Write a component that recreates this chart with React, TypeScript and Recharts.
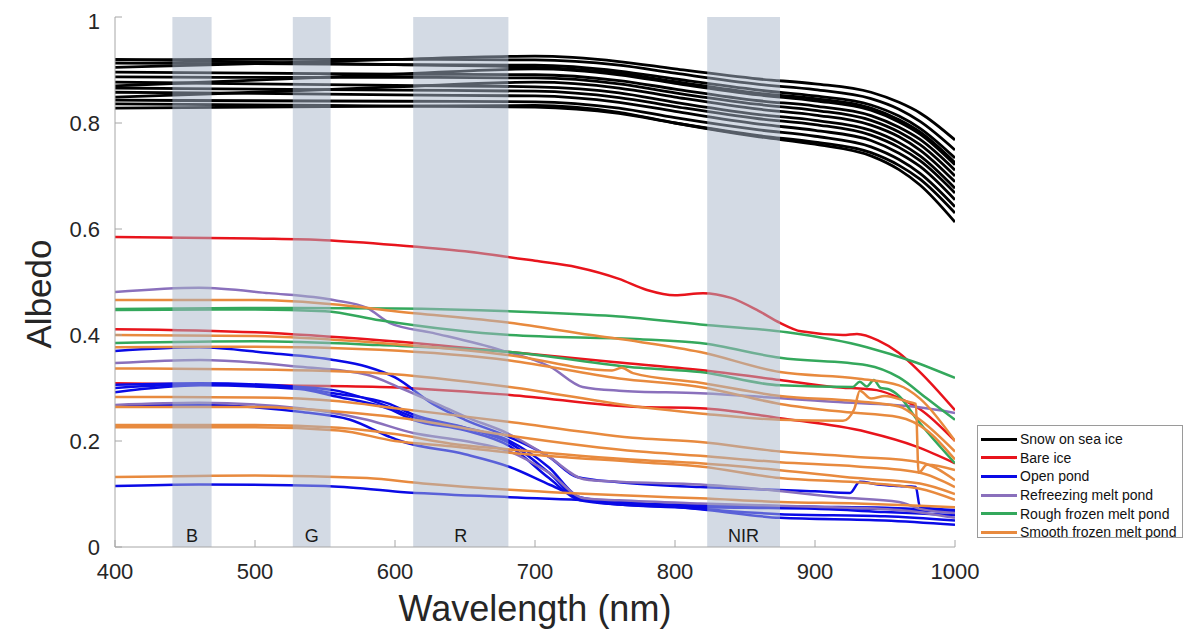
import React from 'react';
import { LineChart, Line, XAxis, YAxis, ReferenceArea, Legend, Label } from 'recharts';

const FONT = '"Liberation Sans", Arial, Helvetica, sans-serif';

const WL_TICKS = [400, 500, 600, 700, 800, 900, 1000];
const ALBEDO_TICKS = [0, 0.2, 0.4, 0.6, 0.8, 1];

const BAND_NAMES = ['B', 'G', 'R', 'NIR'];
const BAND_START = [441, 527, 613, 823];
const BAND_END = [469, 554, 681, 875];

const CATEGORIES = ['Snow on sea ice', 'Bare ice', 'Open pond', 'Refreezing melt pond', 'Rough frozen melt pond', 'Smooth frozen melt pond'];
const CATEGORY_COLORS = ['#000000', '#e8141c', '#0a0ae6', '#8a70bc', '#34a85c', '#e88a3e'];

// Snow on sea ice
const SNOW_WL = [400, 500, 600, 700, 760, 800, 860, 900, 940, 960, 975, 1000];
const SNOW_1 = [0.905, 0.912, 0.920, 0.926, 0.916, 0.902, 0.883, 0.874, 0.858, 0.839, 0.819, 0.768];
const SNOW_2 = [0.919, 0.920, 0.920, 0.919, 0.909, 0.894, 0.873, 0.863, 0.846, 0.826, 0.803, 0.749];
const SNOW_3 = [0.913, 0.912, 0.910, 0.909, 0.898, 0.883, 0.862, 0.851, 0.834, 0.813, 0.790, 0.734];
const SNOW_4 = [0.870, 0.881, 0.892, 0.902, 0.891, 0.875, 0.853, 0.842, 0.824, 0.802, 0.779, 0.721];
const SNOW_5 = [0.896, 0.894, 0.892, 0.891, 0.880, 0.864, 0.842, 0.832, 0.814, 0.792, 0.769, 0.711];
const SNOW_6 = [0.887, 0.886, 0.886, 0.885, 0.874, 0.857, 0.835, 0.824, 0.805, 0.783, 0.759, 0.700];
const SNOW_7 = [0.849, 0.858, 0.868, 0.877, 0.866, 0.849, 0.826, 0.815, 0.796, 0.774, 0.749, 0.689];
const SNOW_8 = [0.877, 0.874, 0.871, 0.868, 0.857, 0.839, 0.816, 0.805, 0.786, 0.763, 0.738, 0.677];
const SNOW_9 = [0.866, 0.864, 0.862, 0.860, 0.848, 0.831, 0.808, 0.797, 0.777, 0.754, 0.729, 0.668];
const SNOW_10 = [0.858, 0.856, 0.853, 0.851, 0.839, 0.822, 0.798, 0.786, 0.767, 0.743, 0.718, 0.655];
const SNOW_11 = [0.843, 0.842, 0.841, 0.840, 0.828, 0.810, 0.787, 0.775, 0.755, 0.731, 0.705, 0.642];
const SNOW_12 = [0.836, 0.834, 0.832, 0.830, 0.818, 0.800, 0.776, 0.764, 0.744, 0.720, 0.694, 0.630];
const SNOW_13 = [0.828, 0.830, 0.832, 0.833, 0.820, 0.800, 0.774, 0.760, 0.738, 0.712, 0.683, 0.613];
const SNOW_14 = [0.920, 0.915, 0.910, 0.905, 0.894, 0.878, 0.856, 0.846, 0.828, 0.806, 0.783, 0.725];

// Bare ice
const BARE_1_WL = [400, 500, 550, 600, 650, 700, 730, 760, 780, 800, 820, 840, 860, 875, 890, 920, 930, 945, 960, 975, 1000];
const BARE_1 = [0.585, 0.582, 0.579, 0.570, 0.558, 0.540, 0.528, 0.506, 0.485, 0.475, 0.479, 0.470, 0.445, 0.423, 0.407, 0.400, 0.402, 0.390, 0.366, 0.330, 0.258];
const BARE_2_WL = [400, 500, 589, 682, 756, 818, 875, 913, 944, 961, 975, 1000];
const BARE_2 = [0.411, 0.405, 0.390, 0.368, 0.349, 0.334, 0.315, 0.302, 0.296, 0.280, 0.260, 0.200];
const BARE_3_WL = [400, 500, 589, 682, 775, 818, 875, 937, 973, 1000];
const BARE_3 = [0.309, 0.305, 0.302, 0.287, 0.264, 0.262, 0.243, 0.217, 0.189, 0.158];

// Open pond
const POND_1_WL = [400, 460, 510, 556, 580, 600, 627, 650, 682, 710, 730, 760, 818, 900, 925, 932, 945, 960, 972, 975, 1000];
const POND_1 = [0.370, 0.377, 0.366, 0.353, 0.340, 0.320, 0.270, 0.240, 0.207, 0.170, 0.132, 0.122, 0.113, 0.105, 0.102, 0.123, 0.118, 0.115, 0.113, 0.075, 0.070];
const POND_WL = [400, 461, 532, 556, 596, 613, 650, 682, 710, 732, 760, 800, 850, 900, 950, 1000];
const POND_2 = [0.306, 0.309, 0.302, 0.296, 0.264, 0.245, 0.225, 0.200, 0.150, 0.094, 0.085, 0.080, 0.078, 0.076, 0.074, 0.068];
const POND_3 = [0.300, 0.307, 0.300, 0.290, 0.270, 0.250, 0.225, 0.196, 0.140, 0.090, 0.082, 0.078, 0.075, 0.074, 0.072, 0.065];
const POND_4 = [0.292, 0.305, 0.298, 0.285, 0.260, 0.240, 0.220, 0.190, 0.130, 0.088, 0.080, 0.076, 0.074, 0.072, 0.066, 0.060];
const POND_5_WL = [400, 460, 532, 568, 596, 604, 650, 682, 711, 735, 760, 800, 875, 950, 1000];
const POND_5 = [0.266, 0.268, 0.255, 0.240, 0.208, 0.200, 0.175, 0.151, 0.117, 0.090, 0.080, 0.075, 0.062, 0.058, 0.050];
const POND_6_WL = [400, 460, 550, 604, 682, 760, 823, 875, 950, 1000];
const POND_6 = [0.115, 0.118, 0.115, 0.104, 0.094, 0.085, 0.070, 0.055, 0.050, 0.042];

// Refreezing melt pond
const REFREEZE_1_WL = [400, 460, 510, 556, 580, 596, 627, 675, 711, 734, 760, 818, 913, 973, 1000];
const REFREEZE_1 = [0.481, 0.489, 0.479, 0.466, 0.451, 0.423, 0.404, 0.372, 0.340, 0.302, 0.295, 0.290, 0.274, 0.264, 0.253];
const REFREEZE_2_WL = [400, 461, 532, 580, 604, 630, 651, 680, 710, 735, 760, 818, 866, 917, 960, 975, 1000];
const REFREEZE_2 = [0.347, 0.353, 0.340, 0.325, 0.300, 0.270, 0.245, 0.215, 0.170, 0.128, 0.123, 0.118, 0.108, 0.094, 0.085, 0.072, 0.064];
const REFREEZE_3_WL = [400, 460, 532, 580, 613, 650, 682, 710, 735, 760, 818, 900, 960, 1000];
const REFREEZE_3 = [0.268, 0.272, 0.262, 0.240, 0.215, 0.200, 0.180, 0.140, 0.092, 0.088, 0.082, 0.076, 0.070, 0.055];

// Rough frozen melt pond
const ROUGH_1_WL = [400, 500, 600, 700, 760, 818, 880, 937, 970, 1000];
const ROUGH_1 = [0.449, 0.451, 0.450, 0.443, 0.435, 0.420, 0.405, 0.377, 0.350, 0.319];
const ROUGH_2_WL = [400, 500, 550, 589, 640, 682, 775, 818, 875, 937, 960, 980, 1000];
const ROUGH_2 = [0.447, 0.448, 0.445, 0.428, 0.410, 0.400, 0.392, 0.385, 0.357, 0.343, 0.320, 0.280, 0.240];
const ROUGH_3_WL = [400, 500, 589, 682, 775, 818, 875, 927, 932, 937, 942, 947, 952, 960, 973, 1000];
const ROUGH_3 = [0.385, 0.388, 0.381, 0.368, 0.338, 0.330, 0.305, 0.302, 0.312, 0.303, 0.315, 0.300, 0.298, 0.285, 0.240, 0.158];

// Smooth frozen melt pond
const SMOOTH_1_WL = [400, 500, 560, 600, 682, 740, 775, 818, 875, 930, 960, 975, 1000];
const SMOOTH_1 = [0.466, 0.466, 0.457, 0.445, 0.423, 0.400, 0.387, 0.368, 0.330, 0.318, 0.305, 0.280, 0.200];
const SMOOTH_2_WL = [400, 500, 589, 682, 755, 762, 770, 818, 875, 930, 960, 975, 1000];
const SMOOTH_2 = [0.400, 0.398, 0.385, 0.362, 0.333, 0.338, 0.328, 0.310, 0.285, 0.275, 0.265, 0.240, 0.180];
const SMOOTH_3_WL = [400, 500, 589, 682, 760, 818, 875, 920, 960, 980, 1000];
const SMOOTH_3 = [0.377, 0.378, 0.372, 0.352, 0.318, 0.302, 0.270, 0.255, 0.245, 0.220, 0.165];
const SMOOTH_4_WL = [400, 500, 589, 682, 775, 818, 875, 920, 928, 932, 940, 950, 965, 972, 974, 980, 1000];
const SMOOTH_4 = [0.337, 0.335, 0.328, 0.302, 0.264, 0.252, 0.240, 0.238, 0.260, 0.295, 0.280, 0.285, 0.275, 0.270, 0.140, 0.155, 0.145];
const SMOOTH_56_WL = [400, 500, 560, 600, 682, 775, 818, 875, 930, 975, 1000];
const SMOOTH_5 = [0.283, 0.282, 0.275, 0.262, 0.236, 0.205, 0.198, 0.180, 0.170, 0.160, 0.126];
const SMOOTH_6 = [0.264, 0.264, 0.255, 0.245, 0.210, 0.180, 0.172, 0.160, 0.152, 0.140, 0.113];
const SMOOTH_78_WL = [400, 500, 560, 600, 640, 682, 775, 818, 875, 930, 975, 1000];
const SMOOTH_7 = [0.230, 0.230, 0.225, 0.213, 0.195, 0.184, 0.164, 0.158, 0.145, 0.130, 0.120, 0.100];
const SMOOTH_8 = [0.226, 0.226, 0.220, 0.200, 0.190, 0.178, 0.160, 0.152, 0.130, 0.122, 0.110, 0.089];
const SMOOTH_9_WL = [400, 500, 580, 620, 682, 775, 818, 875, 930, 975, 1000];
const SMOOTH_9 = [0.132, 0.135, 0.130, 0.120, 0.108, 0.096, 0.092, 0.085, 0.082, 0.078, 0.075];

type S = { cat: number; wl: number[]; v: number[] };
const SERIES: S[] = [
  ...[SNOW_1, SNOW_2, SNOW_3, SNOW_4, SNOW_5, SNOW_6, SNOW_7, SNOW_8, SNOW_9, SNOW_10, SNOW_11, SNOW_12, SNOW_13, SNOW_14].map((v) => ({ cat: 0, wl: SNOW_WL, v })),
  { cat: 1, wl: BARE_1_WL, v: BARE_1 },
  { cat: 1, wl: BARE_2_WL, v: BARE_2 },
  { cat: 1, wl: BARE_3_WL, v: BARE_3 },
  { cat: 2, wl: POND_1_WL, v: POND_1 },
  { cat: 2, wl: POND_WL, v: POND_2 },
  { cat: 2, wl: POND_WL, v: POND_3 },
  { cat: 2, wl: POND_WL, v: POND_4 },
  { cat: 2, wl: POND_5_WL, v: POND_5 },
  { cat: 2, wl: POND_6_WL, v: POND_6 },
  { cat: 3, wl: REFREEZE_1_WL, v: REFREEZE_1 },
  { cat: 3, wl: REFREEZE_2_WL, v: REFREEZE_2 },
  { cat: 3, wl: REFREEZE_3_WL, v: REFREEZE_3 },
  { cat: 4, wl: ROUGH_1_WL, v: ROUGH_1 },
  { cat: 4, wl: ROUGH_2_WL, v: ROUGH_2 },
  { cat: 4, wl: ROUGH_3_WL, v: ROUGH_3 },
  { cat: 5, wl: SMOOTH_1_WL, v: SMOOTH_1 },
  { cat: 5, wl: SMOOTH_2_WL, v: SMOOTH_2 },
  { cat: 5, wl: SMOOTH_3_WL, v: SMOOTH_3 },
  { cat: 5, wl: SMOOTH_4_WL, v: SMOOTH_4 },
  { cat: 5, wl: SMOOTH_56_WL, v: SMOOTH_5 },
  { cat: 5, wl: SMOOTH_56_WL, v: SMOOTH_6 },
  { cat: 5, wl: SMOOTH_78_WL, v: SMOOTH_7 },
  { cat: 5, wl: SMOOTH_78_WL, v: SMOOTH_8 },
  { cat: 5, wl: SMOOTH_9_WL, v: SMOOTH_9 },
];

const AXIS_COLOR = '#a6a6a6';
const TEXT_COLOR = '#262626';

const LegendBox = () => (
  <div
    style={{
      border: '1px solid #9a9a9a',
      background: '#fff',
      width: 206,
      height: 113,
      boxSizing: 'border-box',
      padding: '4px 0 0 3px',
      fontFamily: FONT,
      fontSize: 14,
      color: '#111',
    }}
  >
    {CATEGORIES.map((c, i) => (
      <div key={c} style={{ display: 'flex', alignItems: 'center', height: 18.6 }}>
        <div style={{ width: 36, height: 3, background: CATEGORY_COLORS[i], marginRight: 3 }} />
        <span style={{ whiteSpace: 'nowrap', lineHeight: '16px' }}>{c}</span>
      </div>
    ))}
  </div>
);

export default function App() {
  return (
    <div style={{ fontFamily: FONT, width: 1179, height: 621, position: 'relative' }}>
      <LineChart width={1179} height={621} margin={{ top: 9, right: 232, bottom: 0, left: 0 }}>
        <XAxis
          dataKey="x"
          type="number"
          domain={[400, 1000]}
          ticks={WL_TICKS}
          allowDataOverflow
          height={82}
          stroke={AXIS_COLOR}
          tickSize={-7}
          tickMargin={23}
          tick={{ fill: TEXT_COLOR, fontSize: 22, fontFamily: FONT }}
        >
          <Label value="Wavelength (nm)" position="insideBottom" offset={8} style={{ fontSize: 36, fill: TEXT_COLOR, fontFamily: FONT }} />
        </XAxis>
        <XAxis
          xAxisId="top"
          orientation="top"
          type="number"
          domain={[400, 1000]}
          ticks={WL_TICKS}
          height={0}
          stroke={AXIS_COLOR}
          tick={false}
          tickSize={-7}
        />
        <YAxis
          type="number"
          domain={[0, 1]}
          ticks={ALBEDO_TICKS}
          allowDataOverflow
          width={107}
          stroke={AXIS_COLOR}
          tickSize={-7}
          tickMargin={22}
          tick={{ fill: TEXT_COLOR, fontSize: 22, fontFamily: FONT }}
        >
          <Label
            content={() => (
              <text
                x={30}
                y={286}
                transform="rotate(-90, 30, 286)"
                textAnchor="middle"
                dominantBaseline="central"
                style={{ fontSize: 35, fill: TEXT_COLOR, fontFamily: FONT }}
              >
                Albedo
              </text>
            )}
          />
        </YAxis>
        <YAxis
          yAxisId="right"
          orientation="right"
          type="number"
          domain={[0, 1]}
          ticks={ALBEDO_TICKS}
          width={0}
          stroke={AXIS_COLOR}
          tick={false}
          tickSize={-7}
        />
        {SERIES.map((s, i) => (
          <Line
            key={i}
            data={s.wl.map((x, j) => ({ x, y: s.v[j] }))}
            dataKey="y"
            type="monotone"
            stroke={CATEGORY_COLORS[s.cat]}
            strokeWidth={s.cat === 0 ? 2.8 : 2.5}
            dot={false}
            activeDot={false}
            isAnimationActive={false}
          />
        ))}
        {BAND_NAMES.map((n, i) => (
          <ReferenceArea
            key={n}
            x1={BAND_START[i]}
            x2={BAND_END[i]}
            y1={0}
            y2={1}
            fill="#a9b6ca"
            fillOpacity={0.51}
            stroke="none"
            zIndex={450}
            label={{ value: n, position: 'insideBottom', offset: 5, fontSize: 18, fill: '#1a1a1a', fontFamily: FONT }}
          />
        ))}
        <Legend
          layout="vertical"
          align="center"
          verticalAlign="middle"
          content={() => <LegendBox />}
          wrapperStyle={{ position: 'absolute', left: 969, top: 417, width: 206, height: 113 }}
        />
      </LineChart>
    </div>
  );
}
